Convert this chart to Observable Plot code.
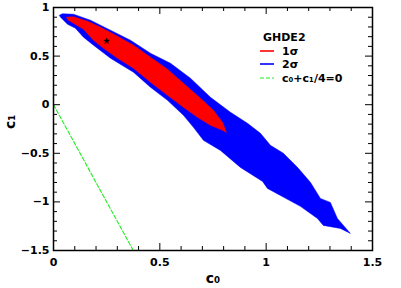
<!DOCTYPE html>
<html><head><meta charset="utf-8">
<script src="https://cdn.jsdelivr.net/npm/d3@7"></script>
<script src="https://cdn.jsdelivr.net/npm/@observablehq/plot@0.6"></script>
<style>
body{margin:0;background:#fff;}
#wrap{position:relative;width:401px;height:288px;font-family:"DejaVu Sans",sans-serif;}
#legend{position:absolute;left:260px;top:31px;font-weight:bold;font-size:11px;line-height:13.6px;color:#000;}
#legend .title{padding-left:3px;}
#legend .row{white-space:nowrap;}
#legend svg{vertical-align:middle;margin-right:8px;margin-top:-2px;}
</style></head>
<body><div id="wrap"><div id="chart"></div>
<div id="legend">
<div class="title">GHDE2</div>
<div class="row"><svg width="14" height="4"><line x1="0" y1="2" x2="14" y2="2" stroke="#ff0000" stroke-width="1.6"/></svg>1σ</div>
<div class="row"><svg width="14" height="4"><line x1="0" y1="2" x2="14" y2="2" stroke="#0000ff" stroke-width="1.6"/></svg>2σ</div>
<div class="row"><svg width="14" height="4"><line x1="0" y1="2" x2="14" y2="2" stroke="#22ee22" stroke-width="1.2" stroke-dasharray="4,2"/></svg>c₀+c₁/4=0</div>
</div></div>
<script>
// 2-sigma contour (c0, c1)
const blueC0 = [0.028,0.042,0.094,0.174,0.268,0.362,0.456,0.550,0.644,0.738,0.832,0.912,0.973,1.020,1.081,1.147,1.208,1.255,1.302,1.335,1.396,
                1.349,1.269,1.241,1.161,1.006,0.983,0.879,0.785,0.705,0.658,0.611,0.536,0.456,0.376,0.268,0.188,0.141,0.103,0.066,0.033];
const blueC1 = [0.921,0.936,0.931,0.869,0.766,0.663,0.529,0.426,0.272,0.076,-0.078,-0.191,-0.294,-0.418,-0.500,-0.644,-0.799,-0.964,-1.005,-1.170,-1.324,
                -1.273,-1.242,-1.170,-1.046,-0.861,-0.789,-0.645,-0.470,-0.367,-0.233,-0.109,0.045,0.179,0.334,0.478,0.612,0.694,0.787,0.828,0.900];
// 1-sigma contour
const redC0 = [0.061,0.094,0.160,0.221,0.301,0.376,0.456,0.536,0.611,0.691,0.752,0.795,0.813,
               0.795,0.738,0.677,0.611,0.536,0.456,0.376,0.301,0.235,0.188,0.141,0.070];
const redC1 = [0.900,0.905,0.859,0.797,0.704,0.612,0.488,0.365,0.220,0.066,-0.058,-0.182,-0.285,
               -0.263,-0.212,-0.130,-0.027,0.097,0.231,0.375,0.478,0.581,0.663,0.777,0.869];
// best fit point
const bestC0 = [0.25];
const bestC1 = [0.655];
// line c0 + c1/4 = 0 endpoints
const lineC0 = [0, 0.375];
const lineC1 = [0, -1.5];
// ticks
const xMajor = [0, 0.5, 1, 1.5];
const xMinor = [0.1,0.2,0.3,0.4,0.6,0.7,0.8,0.9,1.1,1.2,1.3,1.4];
const yMajor = [-1.5, -1, -0.5, 0, 0.5, 1];
const yMinor = [-1.4,-1.3,-1.2,-1.1,-0.9,-0.8,-0.7,-0.6,-0.4,-0.3,-0.2,-0.1,0.1,0.2,0.3,0.4,0.6,0.7,0.8,0.9];
const xLabel = "c₀";
const yLabel = "c₁";

const pts = (xs, ys) => xs.map((x, i) => ({x, y: ys[i]}));
const fmt = d => d < 0 ? "\u2212" + Math.abs(d) : String(d);

const W = 401, H = 288, mL = 53, mR = 29, mT = 7, mB = 38;
const fw = W - mL - mR, fh = H - mT - mB;

const chart = Plot.plot({
  width: W, height: H,
  marginLeft: mL, marginRight: mR, marginTop: mT, marginBottom: mB,
  style: {fontFamily: "DejaVu Sans, sans-serif", fontSize: "11px", fontWeight: "bold", background: "#fff", color: "#000"},
  x: {domain: [0, 1.5]},
  y: {domain: [-1.5, 1]},
  marks: [
    Plot.line(pts(blueC0, blueC1), {x: "x", y: "y", fill: "#0000ff", stroke: "#0000ff", strokeWidth: 0.5, curve: "linear-closed"}),
    Plot.line(pts(redC0, redC1), {x: "x", y: "y", fill: "#ff0000", stroke: "#ff0000", strokeWidth: 0.5, curve: "linear-closed"}),
    Plot.line(pts(lineC0, lineC1), {x: "x", y: "y", stroke: "#22ee22", strokeWidth: 1.1, strokeDasharray: "4,2"}),
    Plot.dot(pts(bestC0, bestC1), {x: "x", y: "y", symbol: "star", r: 1.8, fill: "#000", stroke: "#000", strokeWidth: 0.5}),
    // inward ticks
    Plot.tickX(xMajor, {x: d => d, insetTop: fh - 7, stroke: "#000"}),
    Plot.tickX(xMajor, {x: d => d, insetBottom: fh - 7, stroke: "#000"}),
    Plot.tickX(xMinor, {x: d => d, insetTop: fh - 4, stroke: "#000"}),
    Plot.tickX(xMinor, {x: d => d, insetBottom: fh - 4, stroke: "#000"}),
    Plot.tickY(yMajor, {y: d => d, insetRight: fw - 7, stroke: "#000"}),
    Plot.tickY(yMajor, {y: d => d, insetLeft: fw - 7, stroke: "#000"}),
    Plot.tickY(yMinor, {y: d => d, insetRight: fw - 4, stroke: "#000"}),
    Plot.tickY(yMinor, {y: d => d, insetLeft: fw - 4, stroke: "#000"}),
    Plot.frame({stroke: "#000", strokeWidth: 1.5}),
    Plot.axisX(xMajor, {tickSize: 0, tickPadding: 8, tickFormat: fmt, label: null, fontWeight: "bold", fontSize: 11}),
    Plot.axisY(yMajor, {tickSize: 0, tickPadding: 4, tickFormat: fmt, label: null, fontWeight: "bold", fontSize: 11}),
    Plot.text([xLabel], {text: d => d, frameAnchor: "bottom", dy: 32, fontSize: 14, fontWeight: "bold"}),
    Plot.text([yLabel], {text: d => d, frameAnchor: "left", dx: -43, rotate: -90, fontSize: 14, fontWeight: "bold"})
  ]
});
document.getElementById("chart").appendChild(chart);
</script>
</body></html>
